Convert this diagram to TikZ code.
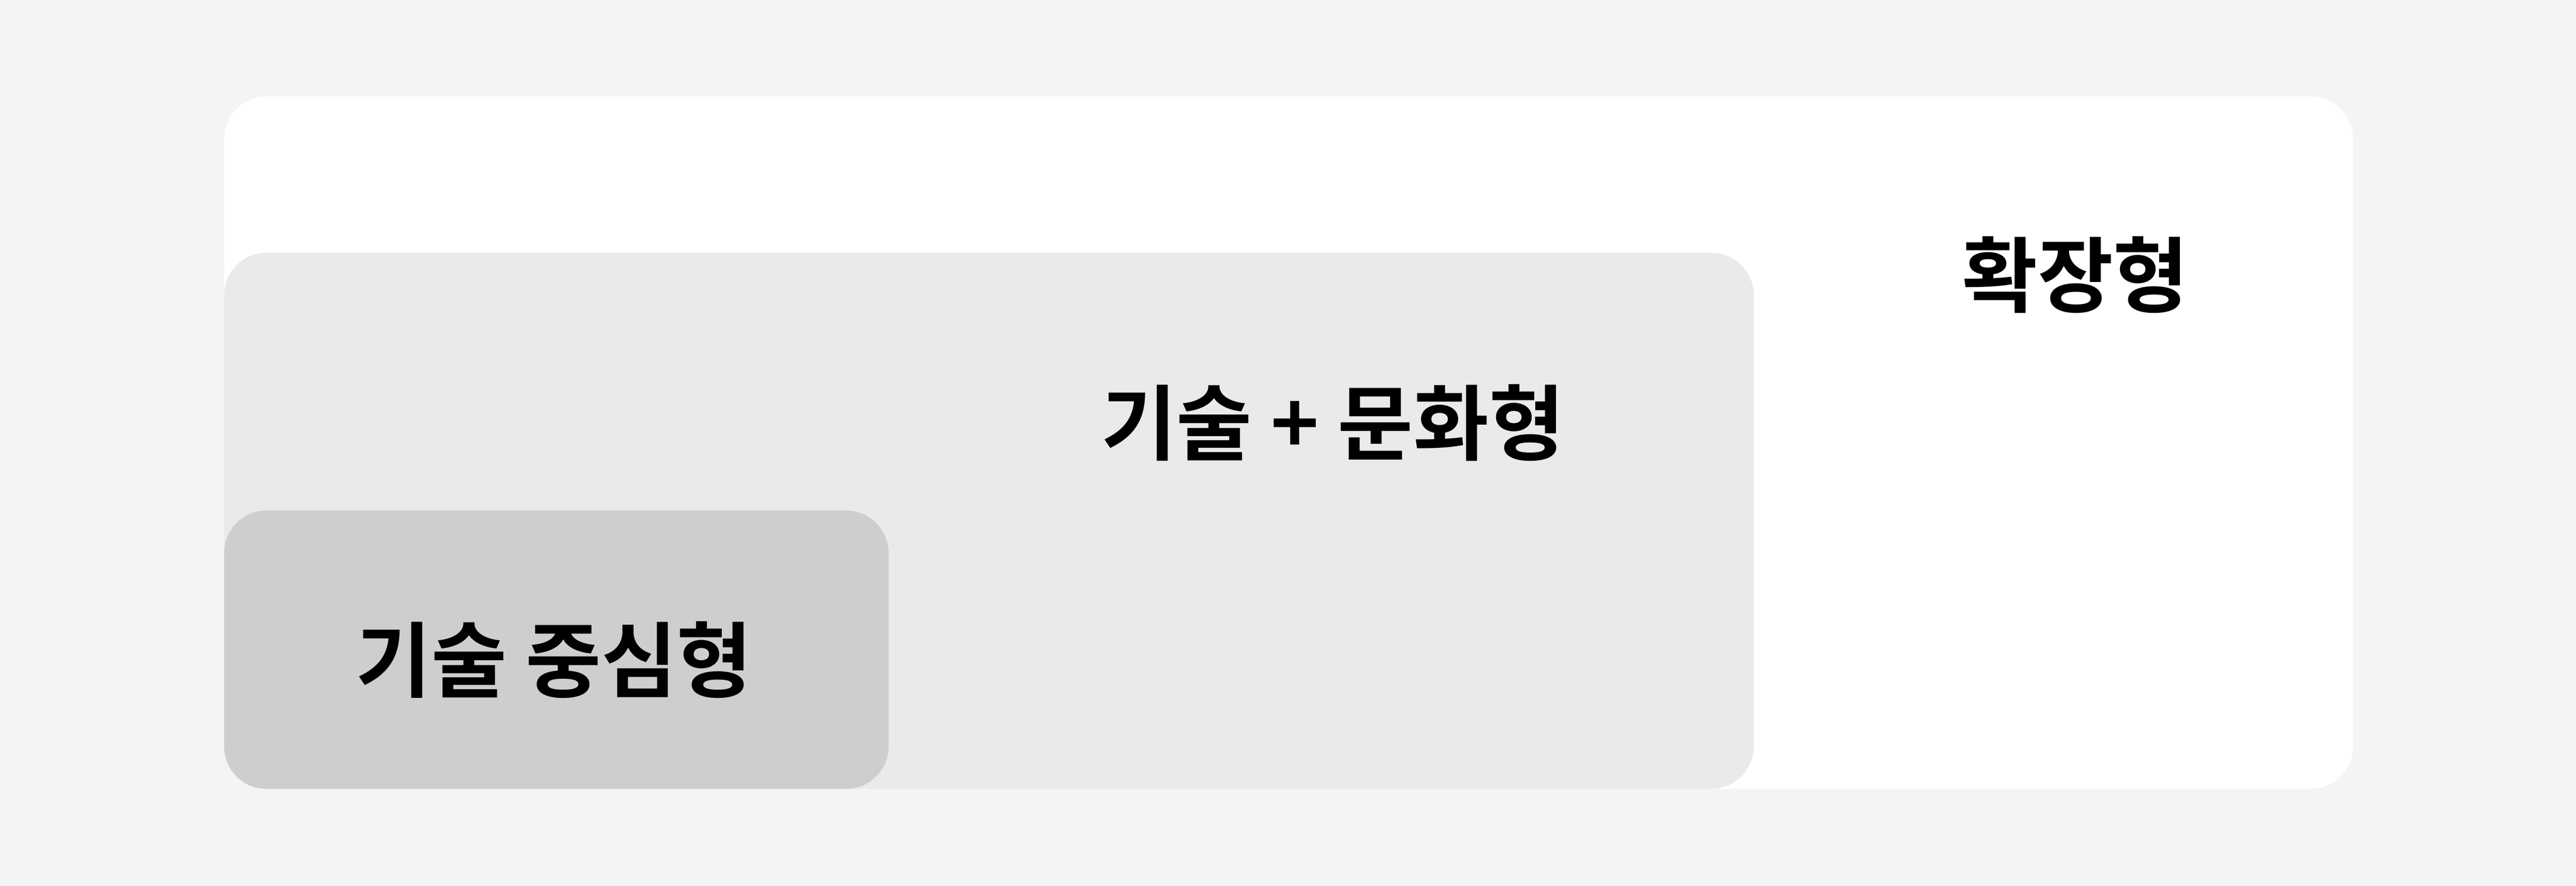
\documentclass[tikz,border=0pt]{standalone}
\usepackage{fontspec}
\newfontfamily\kr{Noto Sans CJK KR Bold}
\definecolor{bgc}{HTML}{F4F4F4}
\definecolor{midc}{HTML}{EAEAEA}
\definecolor{innc}{HTML}{CECECE}
\tikzset{
  panel/.style={rounded corners=25.9pt, draw=none},
  lab/.style={inner sep=0pt, font=\kr\fontsize{50}{50}\selectfont, text=black}
}
\begin{document}
\begin{tikzpicture}[x=1pt,y=-1pt]
\fill[bgc] (0,0) rectangle (1568,538.98);
\useasboundingbox (0,0) rectangle (1568,538.98);
\fill[white, panel] (136.4,58.7) rectangle (1432.3,480.0);
\fill[midc, panel] (136.4,153.8) rectangle (1067.5,480.0);
\fill[innc, panel] (136.4,310.6) rectangle (540.9,480.0);
\node[lab] (ext) at (1263.3,167.3) {확장형};
\node[lab] (mix) at (811.3,257.2) {기술 + 문화형};
\node[lab] (tech) at (337.3,401.5) {기술 중심형};
\end{tikzpicture}
\end{document}
